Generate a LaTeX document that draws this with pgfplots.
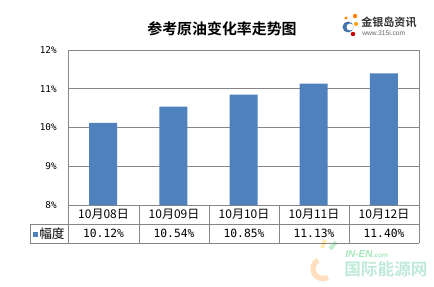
\documentclass[border=0pt]{standalone}
\usepackage{pgfplots}
\pgfplotsset{compat=1.18}
\usepackage{fontspec}
\setmainfont{Liberation Sans}
\newfontfamily\cjk{Noto Sans CJK SC}
\newfontfamily\cjkb{Noto Sans CJK SC Bold}
\newfontfamily\mono{DejaVu Sans Mono}
\definecolor{barblue}{HTML}{4F81BD}
\definecolor{gridgray}{HTML}{868686}
\begin{document}
\begin{tikzpicture}[x=0.75pt,y=0.75pt]
\useasboundingbox (0,0) rectangle (434,286);
\fill[white] (0,0) rectangle (434,286);
% title
\node[font=\cjkb\fontsize{11.2pt}{12pt}\selectfont] at (222,257) {参考原油变化率走势图};
% logo
\fill[barblue!90!black] (348,259) circle[radius=5.5];
\fill[white] (350,259) circle[radius=3.5];
\fill[orange] (355,270) circle[radius=2.2];
\fill[orange!80!yellow] (356,262) circle[radius=2];
\fill[red!80!black] (353,252) circle[radius=2.2];
\fill[orange] (346,268) circle[radius=1.6];
\node[font=\cjkb\fontsize{8.3pt}{9pt}\selectfont, text=black!80, anchor=west, inner sep=0] at (361,264) {金银岛资讯};
\node[font=\fontsize{5pt}{6pt}\selectfont, text=black!60, anchor=west, inner sep=0] at (362,253) {www.315i.com};
% watermark
\draw[orange!25, line width=4pt] (318,26) arc[start angle=120, end angle=300, radius=10];
\draw[green!50!teal!25, line width=3pt] (330,37) -- (336,44);
\draw[yellow!60!orange!30, line width=3pt] (322,38) -- (325,46);
\node[font=\bfseries\itshape\fontsize{7.5pt}{8pt}\selectfont, text=green!50!teal!35, anchor=west, inner sep=0] at (345,32) {IN-EN\fontsize{5pt}{6pt}\selectfont.com};
\node[font=\cjkb\fontsize{12.5pt}{13pt}\selectfont, text=cyan!40!green!25, anchor=west, inner sep=0] at (344,17) {国际能源网};
\begin{axis}[
  at={(51pt,60.75pt)}, anchor=south west,
  scale only axis, width=263.25pt, height=116.25pt,
  xmin=0, xmax=5, ymin=8, ymax=12,
  ytick={8,9,10,11,12},
  yticklabels={8\%,9\%,10\%,11\%,12\%},
  yticklabel style={font=\mono\fontsize{7pt}{8pt}\selectfont, anchor=east, xshift=-5pt, yshift=0pt},
  xtick=\empty,
  major tick length=0pt,
  ymajorgrids, grid style={gridgray, line width=0.6pt},
  axis line style={gridgray, line width=0.6pt},
  ybar, bar width=21pt,
]
\addplot[fill=barblue, draw=none] coordinates {(0.5,10.12) (1.5,10.54) (2.5,10.85) (3.5,11.13) (4.5,11.40)};
\end{axis}
% table
\begin{scope}[gridgray, line width=0.6pt]
\draw (68,62) -- (419,62);
\draw (30,62) -- (30,43) -- (419,43);
\draw (30,62) -- (68,62);
\foreach \x in {68,139,209,279,349,419} \draw (\x,81) -- (\x,43);
\end{scope}
\foreach \x/\t in {103.5/10月08日,174/10月09日,244/10月10日,314/10月11日,384/10月12日}
  \node[font=\cjk\fontsize{9pt}{10pt}\selectfont] at (\x,71.5) {\t};
\foreach \x/\t in {103.5/10.12\%,174/10.54\%,244/10.85\%,314/11.13\%,384/11.40\%}
  \node[font=\mono\fontsize{8.5pt}{10pt}\selectfont] at (\x,52.5) {\t};
\fill[barblue] (33,49.5) rectangle (38,54.5);
\node[font=\cjk\fontsize{9.5pt}{10pt}\selectfont, anchor=west, inner sep=0] at (39,52.5) {幅度};
\end{tikzpicture}
\end{document}
